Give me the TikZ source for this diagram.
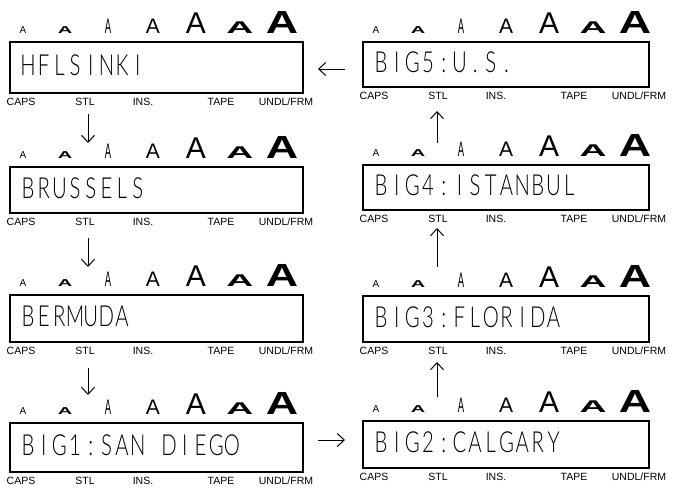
\documentclass[tikz,border=0pt]{standalone}
\usepackage{fontspec}
\usepackage{graphicx}
\setmainfont{Liberation Sans}
\newfontfamily\lcd{Lato Light}
\usetikzlibrary{arrows.meta}

\makeatletter
\def\lcdchars#1{\lcd@loop#1\relax}
\def\lcd@loop#1{\ifx#1\relax\else\makebox[22.4pt][c]{#1}\expandafter\lcd@loop\fi}
\makeatother

\newcommand\Aone{\fontsize{10}{10}\selectfont A}
\newcommand\Atwo{\scalebox{2}[1]{\bfseries\fontsize{10}{10}\selectfont A}}
\newcommand\Athree{\scalebox{0.45}[1]{\fontsize{21}{21}\selectfont A}}
\newcommand\Afour{\fontsize{21}{21}\selectfont A}
\newcommand\Afive{\fontsize{30}{30}\selectfont A}
\newcommand\Asix{\scalebox{2.2}[1]{\bfseries\fontsize{17}{17}\selectfont A}}
\newcommand\Aseven{\scalebox{1.4}[1]{\bfseries\fontsize{32}{32}\selectfont A}}

\tikzset{
  lcdbox/.style={draw, line width=1.6pt, inner sep=0pt, rectangle},
  lcdtxt/.style={inner sep=0pt, font=\lcd\fontsize{29}{29}\selectfont},
  lab/.style={inner sep=0pt, font=\fontsize{10.5}{10.5}\selectfont},
  sizea/.style={inner sep=0pt, anchor=base},
  arr/.style={line width=1pt, -{Straight Barb[length=7pt,width=13pt]}}
}

% #1 name, #2 left x, #3 top y, #4 width, #5 height, #6 text
\newcommand\lcdpanel[6]{%
  \node[lcdbox, minimum width=#4pt, minimum height=#5pt, anchor=north west] (#1) at (#2,#3) {};
  \node[lcdtxt, anchor=west] (#1t) at ([xshift=11pt,yshift=2pt]#1.west) {\scalebox{0.7}[1]{\lcdchars{#6}}};
  \node[lab, anchor=north] (#1caps) at ([xshift=12pt,yshift=-4.5pt]#1.south west) {CAPS};
  \node[lab, anchor=north] (#1stl)  at ([xshift=76pt,yshift=-4.5pt]#1.south west) {STL};
  \node[lab, anchor=north] (#1ins)  at ([xshift=134pt,yshift=-4.5pt]#1.south west) {INS.};
  \node[lab, anchor=north] (#1tape) at ([xshift=212pt,yshift=-4.5pt]#1.south west) {TAPE};
  \node[lab, anchor=north] (#1undl) at ([xshift=277pt,yshift=-4.5pt]#1.south west) {UNDL/FRM};
  \node[sizea] (#1a1) at ([xshift=14pt,yshift=8pt]#1.north west) {\Aone};
  \node[sizea] (#1a2) at ([xshift=56pt,yshift=8pt]#1.north west) {\Atwo};
  \node[sizea] (#1a3) at ([xshift=99pt,yshift=8pt]#1.north west) {\Athree};
  \node[sizea] (#1a4) at ([xshift=144pt,yshift=8pt]#1.north west) {\Afour};
  \node[sizea] (#1a5) at ([xshift=187pt,yshift=8pt]#1.north west) {\Afive};
  \node[sizea] (#1a6) at ([xshift=231pt,yshift=8pt]#1.north west) {\Asix};
  \node[sizea] (#1a7) at ([xshift=273pt,yshift=8pt]#1.north west) {\Aseven};
}

\begin{document}
\begin{tikzpicture}[x=1pt,y=-1pt]
\useasboundingbox[fill=white] (0,0) rectangle (675,488);

\lcdpanel{L1}{9}{41}{293}{51}{HFLSINKI}
\lcdpanel{L2}{9}{166}{293}{46}{BRUSSELS}
\lcdpanel{L3}{9}{294}{293}{47}{BERMUDA}
\lcdpanel{L4}{9}{422}{293}{49}{BIG1:SAN~DIEGO}

\lcdpanel{R1}{362}{41}{286}{45}{BIG5:U.S.}
\lcdpanel{R2}{362}{164}{286}{45}{BIG4:ISTANBUL}
\lcdpanel{R3}{362}{295}{286}{46}{BIG3:FLORIDA}
\lcdpanel{R4}{362}{420}{286}{47}{BIG2:CALGARY}

% arrow end points
\coordinate (d1s) at (88,114);  \coordinate (d1e) at (88,143);
\coordinate (d2s) at (88,238);  \coordinate (d2e) at (88,267);
\coordinate (d3s) at (88,368);  \coordinate (d3e) at (88,395);
\coordinate (u1s) at (437,397); \coordinate (u1e) at (437,362);
\coordinate (u2s) at (437,267); \coordinate (u2e) at (437,228);
\coordinate (u3s) at (437,143); \coordinate (u3e) at (437,111);
\coordinate (hbs) at (318,440); \coordinate (hbe) at (345,440);
\coordinate (hts) at (345,69);  \coordinate (hte) at (318,69);

\draw[arr] (d1s) -- (d1e);
\draw[arr] (d2s) -- (d2e);
\draw[arr] (d3s) -- (d3e);
\draw[arr] (hbs) -- (hbe);
\draw[arr] (u1s) -- (u1e);
\draw[arr] (u2s) -- (u2e);
\draw[arr] (u3s) -- (u3e);
\draw[arr] (hts) -- (hte);
\end{tikzpicture}
\end{document}
